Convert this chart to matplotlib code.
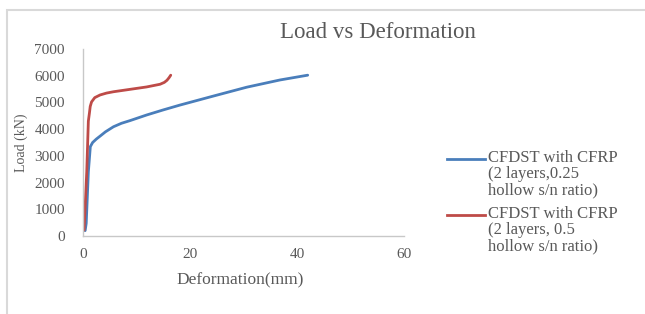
import matplotlib
matplotlib.use("Agg")
import matplotlib.pyplot as plt
from matplotlib.lines import Line2D
from matplotlib.patches import Rectangle

# Deformation (mm) vs load (kN)
blue_x = [0.4, 0.6, 1.0, 1.37, 1.8, 2.5, 3.2, 4.2, 5.7, 7.2, 8.8, 11.9, 15.0, 18.1, 24.4, 30.6, 36.8, 42.0]
blue_y = [200, 475, 2400, 3345, 3500, 3630, 3740, 3900, 4090, 4220, 4320, 4530, 4720, 4900, 5240, 5570, 5840, 6020]
red_x = [0.2, 0.7, 1.0, 1.2, 1.35, 1.6, 2.2, 3.2, 4.4, 5.7, 8.8, 11.9, 14.4, 15.2, 15.7, 16.1, 16.4]
red_y = [220, 2400, 4300, 4600, 4850, 5020, 5180, 5280, 5350, 5400, 5490, 5580, 5680, 5750, 5830, 5930, 6020]

labels = ["CFDST with CFRP\n(2 layers,0.25\nhollow s/n ratio)",
          "CFDST with CFRP\n(2 layers, 0.5\nhollow s/n ratio)"]
colors = ["#4A7EBB", "#BE4B48"]

x_ticks = [0, 20, 40, 60]
y_ticks = [0, 1000, 2000, 3000, 4000, 5000, 6000, 7000]

txt = "#595959"
plt.rcParams["font.family"] = ["Liberation Serif", "DejaVu Serif"]

W, H = 645, 314
fig = plt.figure(figsize=(W / 100, H / 100), dpi=100)

# light chart-area frame (runs off the right / bottom edge)
fig.add_artist(Rectangle((7 / W, -0.05), 1.0, 1 - 10 / H + 0.05,
                         transform=fig.transFigure, fill=False,
                         edgecolor="#d9d9d9", linewidth=1.5))

ax = fig.add_axes([83 / W, 1 - 236 / H, (404 - 83) / W, (236 - 49) / H])
ax.plot(blue_x, blue_y, color=colors[0], linewidth=2, solid_capstyle="round",
        solid_joinstyle="round")
ax.plot(red_x, red_y, color=colors[1], linewidth=2, solid_capstyle="round",
        solid_joinstyle="round")

ax.set_xlim(0, 60)
ax.set_ylim(0, 7000)
ax.set_xticks(x_ticks)
ax.set_yticks(y_ticks)
ax.tick_params(length=0, labelsize=11, labelcolor=txt)
ax.tick_params(axis="x", pad=9)
ax.tick_params(axis="y", pad=13)
for s in ["top", "right"]:
    ax.spines[s].set_visible(False)
for s in ["left", "bottom"]:
    ax.spines[s].set_color("#c8c8c8")
    ax.spines[s].set_linewidth(1)

fig.text(378 / W, 1 - 33 / H, "Load vs Deformation", ha="center", va="center",
         fontsize=16.5, color=txt)
fig.text(240 / W, 1 - 280 / H, "Deformation(mm)", ha="center", va="center",
         fontsize=12.5, color=txt)
fig.text(21 / W, 1 - 143 / H, "Load (kN)", ha="center", va="center",
         rotation=90, fontsize=10, color=txt)

# legend on the right, handle level with the first text line
for i, (lab, c) in enumerate(zip(labels, colors)):
    y0 = 159 + i * 56
    fig.add_artist(Line2D([447 / W, 485 / W], [1 - y0 / H, 1 - y0 / H],
                          transform=fig.transFigure, color=c, linewidth=2))
    fig.text(488 / W, 1 - (y0 - 9) / H, lab, ha="left", va="top",
             fontsize=12, color=txt, linespacing=1.0)

fig.savefig("out.png", dpi=100)
